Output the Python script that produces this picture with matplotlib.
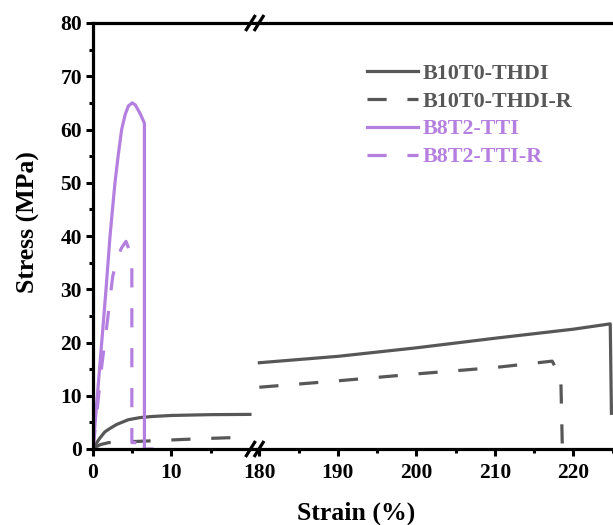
import matplotlib
matplotlib.use("Agg")
import matplotlib.pyplot as plt
from matplotlib.ticker import MultipleLocator, FixedLocator

plt.rcParams['font.family'] = ['Liberation Serif', 'DejaVu Serif']
plt.rcParams['font.weight'] = 'bold'

GRAY = '#575757'
PURPLE = '#b57fe0'

# B10T0-THDI
thdi_x_lo = [0, 0.4, 0.8, 1.5, 2.2, 3, 4.5, 6, 7.5, 10, 15, 20]
thdi_y_lo = [0, 1.0, 1.9, 3.2, 3.9, 4.6, 5.5, 5.9, 6.1, 6.3, 6.45, 6.5]
thdi_x_hi = [180, 190, 200, 210, 220, 224.7, 224.85]
thdi_y_hi = [16.2, 17.4, 19.0, 20.8, 22.5, 23.5, 6.7]

# B10T0-THDI-R
thdir_x_lo = [0, 0.5, 1, 2, 4, 7, 10, 14, 17, 20]
thdir_y_lo = [0, 0.5, 0.85, 1.2, 1.35, 1.5, 1.7, 1.95, 2.1, 2.2]
thdir_x_hi = [180, 190, 200, 210, 217.3, 218.4, 218.6]
thdir_y_hi = [11.6, 12.8, 14.1, 15.3, 16.5, 13.5, 0]

# B8T2-TTI
tti_x = [0, 1, 1.66, 2.17, 2.8, 3.2, 3.65, 4.1, 4.5, 5.0, 5.4, 6.0, 6.55, 6.55, 7.5]
tti_y = [0, 18, 30, 40, 50, 55, 60, 62.8, 64.4, 65, 64.6, 63, 61.2, 0, 0]

# B8T2-TTI-R
ttir_x = [0, 1.1, 1.9, 2.5, 3.0, 3.65, 4.2, 4.6, 4.95, 4.95, 6.7]
ttir_y = [0, 15.4, 24.8, 32.3, 35.5, 37.8, 39, 37.5, 36, 1.2, 1.2]

labels = ['B10T0-THDI', 'B10T0-THDI-R', 'B8T2-TTI', 'B8T2-TTI-R']

W, H = 613, 525
fig = plt.figure(figsize=(W / 100, H / 100), dpi=100)
x0, xb, x1 = 93, 257, 613
yb, yt = 449, 23
ax1 = fig.add_axes([x0 / W, 1 - yb / H, (xb - x0) / W, (yb - yt) / H])
ax2 = fig.add_axes([xb / W, 1 - yb / H, (x1 - xb) / W, (yb - yt) / H])

lw = 2.3
dash = (6, 6.5)
ax1.plot(thdi_x_lo, thdi_y_lo, color=GRAY, lw=lw)
ax1.plot(thdir_x_lo, thdir_y_lo, color=GRAY, lw=lw, dashes=dash)
ax1.plot(tti_x, tti_y, color=PURPLE, lw=lw)
ax1.plot(ttir_x, ttir_y, color=PURPLE, lw=lw, dashes=dash)

h1, = ax2.plot(thdi_x_hi, thdi_y_hi, color=GRAY, lw=lw)
h2, = ax2.plot(thdir_x_hi, thdir_y_hi, color=GRAY, lw=lw, dashes=dash)
h3, = ax2.plot([], [], color=PURPLE, lw=lw)
h4, = ax2.plot([], [], color=PURPLE, lw=lw, dashes=dash)

ax1.set_xlim(0, 20.9)
ax2.set_xlim(179.7, 225.05)
for ax in (ax1, ax2):
    ax.set_ylim(0, 80)
    ax.yaxis.set_major_locator(MultipleLocator(10))
    ax.yaxis.set_minor_locator(MultipleLocator(5))
    ax.tick_params(which='major', direction='out', length=5, width=2.2,
                   labelsize=15.5, pad=3)
    ax.tick_params(which='minor', direction='out', length=3, width=2.2)
    ax.tick_params(axis='x', which='major', pad=5)
    for s in ax.spines.values():
        s.set_linewidth(2.3)
    ax.spines['right'].set_visible(False)

ax1.xaxis.set_major_locator(FixedLocator([0, 10]))
ax1.xaxis.set_minor_locator(FixedLocator([5, 15]))
ax2.xaxis.set_major_locator(MultipleLocator(10))
ax2.xaxis.set_minor_locator(MultipleLocator(5))

ax2.spines['left'].set_visible(False)
ax2.tick_params(axis='y', which='both', left=False, labelleft=False)

# break marks
for yy in (0, 1):
    for off in (-6.5, 2):
        ax2.plot([(off - 5) / 356, (off + 5) / 356],
                 [yy - 8 / 426, yy + 8 / 426],
                 transform=ax2.transAxes, color='black', lw=2.3,
                 clip_on=False, solid_capstyle='butt', zorder=5)

leg = ax2.legend([h1, h2, h3, h4], labels, loc='upper left',
                 bbox_to_anchor=(0.308, 0.905), frameon=False,
                 borderpad=0, borderaxespad=0, handlelength=2.32,
                 handletextpad=0.23, labelspacing=0.34, fontsize=15.8,
                 labelcolor='linecolor')

fig.text(356 / W, 1 - 513 / H, 'Strain (%)', ha='center', va='center',
         fontsize=18.5, fontweight='bold')
fig.text(28 / W, 1 - 222 / H, 'Stress (MPa)', ha='center', va='center',
         rotation=90, fontsize=18.5, fontweight='bold')

fig.savefig('out.png', dpi=100)
